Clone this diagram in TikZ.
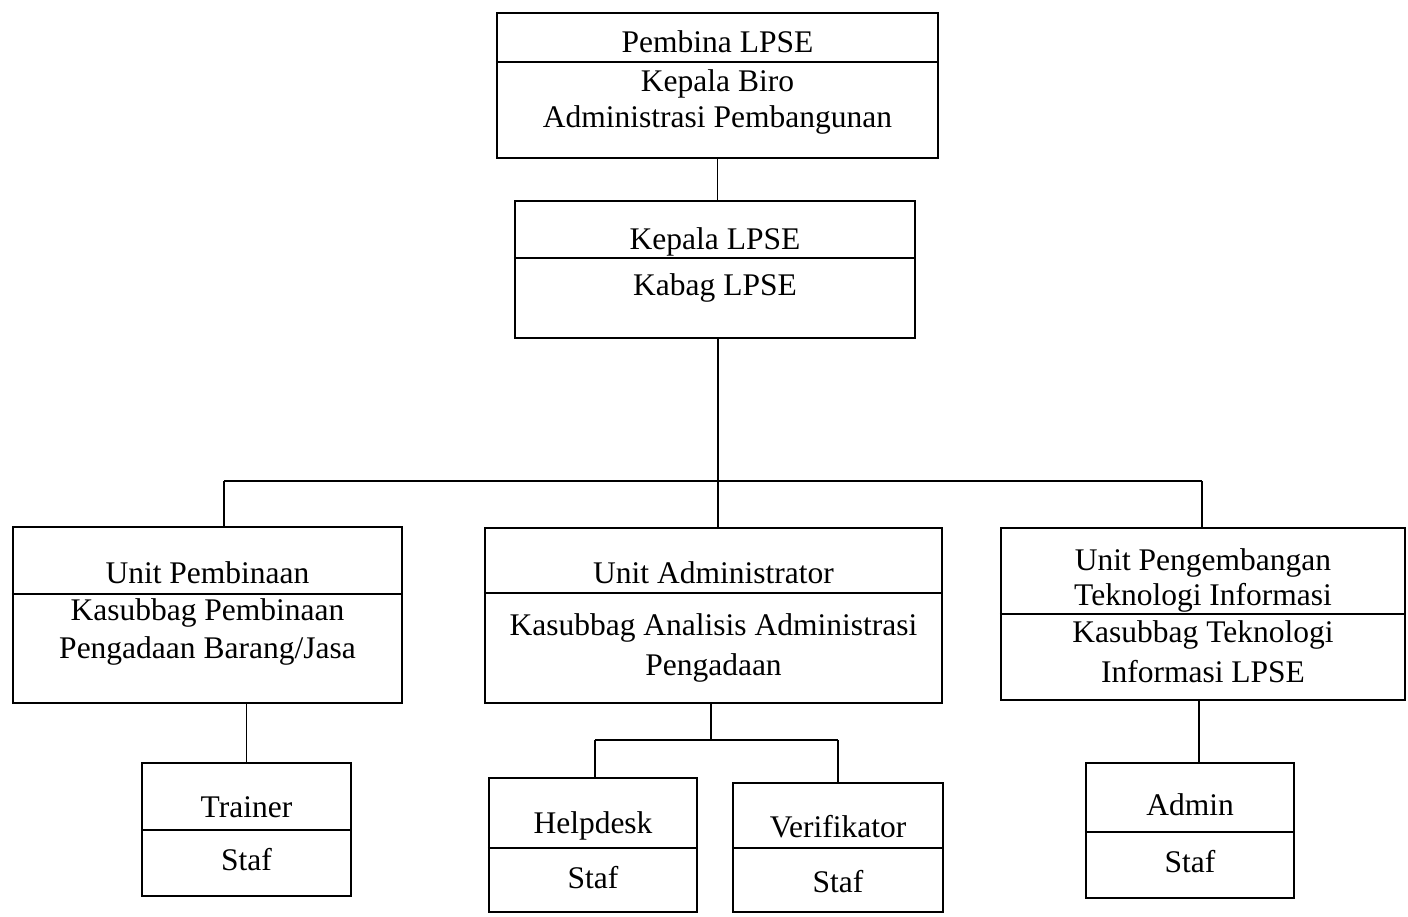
\documentclass[tikz,border=0pt]{standalone}
\usepackage{fontspec}
\setmainfont{Liberation Serif}
\begin{document}
\begin{tikzpicture}[x=1pt,y=-1pt,
  orgbox/.style={draw=black, line width=2.2pt, rectangle, inner sep=0pt},
  divider/.style={line width=2pt},
  conn/.style={line width=1.6pt},
  busline/.style={line width=2.8pt},
  txt/.style={anchor=base, inner sep=0pt, font=\fontsize{31.5}{38}\selectfont}]
\useasboundingbox (0,0) rectangle (1408,917);
\fill[white] (0,0) rectangle (1408,917);

% boxes
\node[orgbox, minimum width=441pt, minimum height=145pt] (top) at (717.5,85.5) {};
\node[orgbox, minimum width=400pt, minimum height=137pt] (kep) at (715,269.5) {};
\node[orgbox, minimum width=389pt, minimum height=176pt] (L) at (207.5,615) {};
\node[orgbox, minimum width=457pt, minimum height=175pt] (M) at (713.5,615.5) {};
\node[orgbox, minimum width=404pt, minimum height=172pt] (R) at (1203,614) {};
\node[orgbox, minimum width=209pt, minimum height=133pt] (T) at (246.5,829.5) {};
\node[orgbox, minimum width=208pt, minimum height=134pt] (H) at (593,845) {};
\node[orgbox, minimum width=210pt, minimum height=129pt] (V) at (838,847.5) {};
\node[orgbox, minimum width=208pt, minimum height=135pt] (A) at (1190,830.5) {};

% dividers
\draw[divider] (top.west |- 0,62) -- (top.east |- 0,62);
\draw[divider] (kep.west |- 0,258) -- (kep.east |- 0,258);
\draw[divider] (L.west |- 0,594) -- (L.east |- 0,594);
\draw[divider] (M.west |- 0,593) -- (M.east |- 0,593);
\draw[divider] (R.west |- 0,614) -- (R.east |- 0,614);
\draw[divider] (T.west |- 0,830) -- (T.east |- 0,830);
\draw[divider] (H.west |- 0,848) -- (H.east |- 0,848);
\draw[divider] (V.west |- 0,848) -- (V.east |- 0,848);
\draw[divider] (A.west |- 0,832) -- (A.east |- 0,832);

% texts
\node[txt] (t1) at (top.center |- 0,53) {Pembina LPSE};
\node[txt] (t2) at (top.center |- 0,92) {Kepala Biro};
\node[txt] (t3) at (top.center |- 0,128) {Administrasi Pembangunan};
\node[txt] (k1) at (kep.center |- 0,250) {Kepala LPSE};
\node[txt] (k2) at (kep.center |- 0,295) {Kabag LPSE};
\node[txt] (l1) at (L.center |- 0,583) {Unit Pembinaan};
\node[txt] (l2) at (L.center |- 0,620) {Kasubbag Pembinaan};
\node[txt] (l3) at (L.center |- 0,658) {Pengadaan Barang/Jasa};
\node[txt] (m1) at (M.center |- 0,583) {Unit Administrator};
\node[txt] (m2) at (M.center |- 0,635) {Kasubbag Analisis Administrasi};
\node[txt] (m3) at (M.center |- 0,675) {Pengadaan};
\node[txt] (r1) at (R.center |- 0,570) {Unit Pengembangan};
\node[txt] (r2) at (R.center |- 0,605) {Teknologi Informasi};
\node[txt] (r3) at (R.center |- 0,642) {Kasubbag Teknologi};
\node[txt] (r4) at (R.center |- 0,682) {Informasi LPSE};
\node[txt] (tr1) at (T.center |- 0,817) {Trainer};
\node[txt] (tr2) at (T.center |- 0,870) {Staf};
\node[txt] (h1) at (H.center |- 0,833) {Helpdesk};
\node[txt] (h2) at (H.center |- 0,888) {Staf};
\node[txt] (v1) at (V.center |- 0,837) {Verifikator};
\node[txt] (v2) at (V.center |- 0,892) {Staf};
\node[txt] (a1) at (A.center |- 0,815) {Admin};
\node[txt] (a2) at (A.center |- 0,872) {Staf};

% connectors
\coordinate (busl) at (224,481);
\coordinate (busm) at (718,481);
\coordinate (busr) at (1202,481);
\coordinate (mj) at (711,740);
\coordinate (hj) at (595,740);
\coordinate (vj) at (838,740);

\draw[conn] (top.south) -- (top.south |- kep.north);
\draw[conn] (kep.south -| busm) -- (busm);
\draw[busline] (busl) -- (busr);
\draw[conn] (busl) -- (busl |- L.north);
\draw[conn] (busm) -- (busm |- M.north);
\draw[conn] (busr) -- (busr |- R.north);
\draw[conn] (L.south -| T.north) -- (T.north);
\draw[conn] (M.south -| mj) -- (mj);
\draw[busline] (hj) -- (vj);
\draw[conn] (hj) -- (hj |- H.north);
\draw[conn] (vj) -- (vj |- V.north);
\draw[conn] (R.south -| 1199,0) -- (A.north -| 1199,0);
\end{tikzpicture}
\end{document}
